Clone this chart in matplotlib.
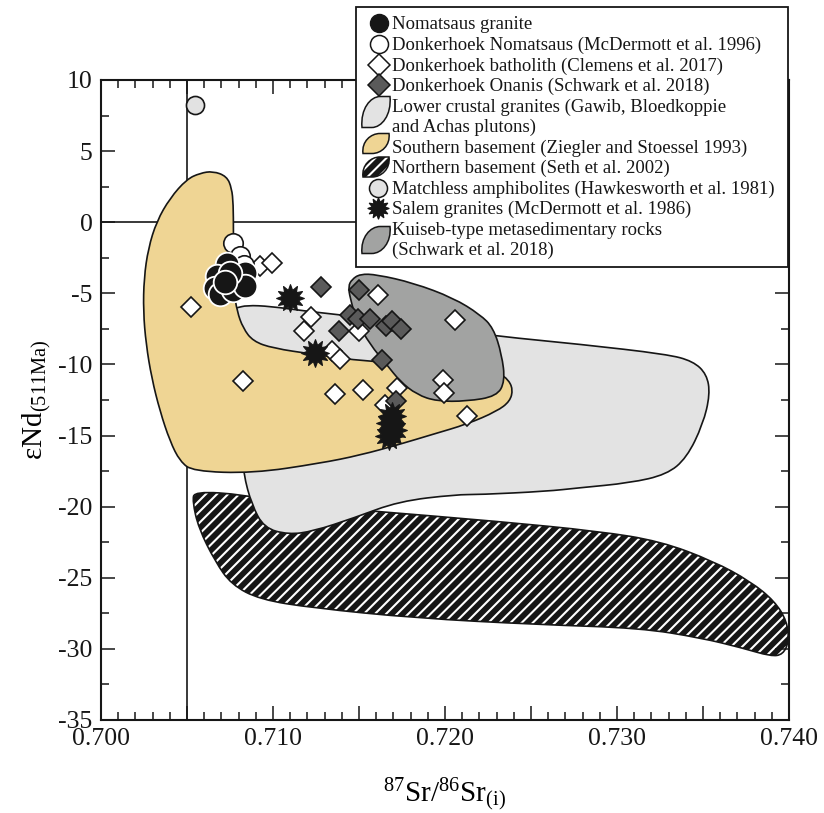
import numpy as np
import matplotlib
matplotlib.use('Agg')
import matplotlib.pyplot as plt
from matplotlib.path import Path
from matplotlib.patches import PathPatch, Rectangle
from matplotlib.ticker import MultipleLocator, FuncFormatter

plt.rcParams['font.family'] = ['Liberation Serif', 'DejaVu Serif']
plt.rcParams['mathtext.fontset'] = 'custom'
plt.rcParams['mathtext.rm'] = 'Liberation Serif'
plt.rcParams['axes.unicode_minus'] = False
plt.rcParams['hatch.linewidth'] = 1.5

# data
# Nomatsaus granite (black circles)
nom_x = [0.70731, 0.70673, 0.70663, 0.70692, 0.70766, 0.70837, 0.70837, 0.70750, 0.70720]
nom_y = [-2.97, -3.80, -4.62, -5.05, -4.78, -3.57, -4.50, -3.60, -4.20]
# Donkerhoek Nomatsaus, McDermott et al. 1996 (white circles)
dkn_x = [0.70769, 0.70810, 0.70830]
dkn_y = [-1.46, -2.35, -3.00]
# Donkerhoek batholith, Clemens et al. 2017 (white diamonds)
dkb_x = [0.70924, 0.70992, 0.70523, 0.70828, 0.71612, 0.71219, 0.71182, 0.71502, 0.71341,
         0.71390, 0.71360, 0.71525, 0.71719, 0.71651, 0.72058, 0.71990, 0.71996, 0.72126]
dkb_y = [-3.05, -2.90, -5.96, -11.18, -5.13, -6.68, -7.67, -7.67, -9.07,
         -9.59, -12.07, -11.77, -11.65, -12.82, -6.84, -11.06, -12.00, -13.64]
# Donkerhoek Onanis, Schwark et al. 2018 (dark diamonds)
dko_x = [0.71277, 0.71502, 0.71386, 0.71448, 0.71496, 0.71564, 0.71657, 0.71690, 0.71742, 0.71632, 0.71715]
dko_y = [-4.57, -4.80, -7.62, -6.54, -6.77, -6.77, -7.31, -6.96, -7.50, -9.70, -12.54]
# Salem granites (stars)
sal_x = [0.71099, 0.71244, 0.71690, 0.71680, 0.71700, 0.71675]
sal_y = [-5.32, -9.19, -13.60, -14.10, -14.60, -15.00]
# Matchless amphibolites
mat_x = [0.70547]
mat_y = [8.23]

# field outlines
south_x = [0.70651, 0.70731, 0.70760, 0.70769, 0.70770, 0.70770, 0.70773, 0.70791, 0.70826, 0.70884,
           0.71000, 0.71233, 0.71430, 0.71581, 0.71855, 0.72145, 0.72320, 0.72366, 0.72395, 0.72378,
           0.72302, 0.72128, 0.71930, 0.71738, 0.71506, 0.71273, 0.70884, 0.70535, 0.70459, 0.70401,
           0.70343, 0.70295, 0.70262, 0.70246, 0.70250, 0.70275, 0.70324, 0.70401, 0.70498, 0.70576]
south_y = [3.59, 3.23, 2.39, 1.27, -0.63, -2.74, -4.85, -6.26, -7.45, -8.37,
           -8.86, -9.28, -9.63, -9.77, -10.13, -10.48, -10.69, -11.04, -11.74, -12.59,
           -13.29, -14.20, -14.91, -15.61, -16.38, -16.95, -17.65, -17.51, -16.81, -15.40,
           -13.29, -10.97, -8.58, -6.26, -3.94, -1.83, 0.07, 1.69, 3.02, 3.45]

lower_x = [0.70738, 0.70789, 0.70847, 0.70983, 0.71196, 0.71465, 0.71855, 0.72308, 0.72785, 0.73289,
           0.73442, 0.73522, 0.73541, 0.73500, 0.73405, 0.73289, 0.73076, 0.72777, 0.72591, 0.72204,
           0.72064, 0.71732, 0.71471, 0.71233, 0.71090, 0.70948, 0.70876, 0.70829, 0.70790, 0.70740]
lower_y = [-6.12, -6.03, -5.84, -5.91, -6.26, -6.61, -7.31, -8.02, -8.58, -9.28,
           -9.77, -10.69, -12.10, -14.20, -16.57, -17.74, -18.33, -18.68, -18.92, -19.15,
           -19.15, -19.62, -20.79, -21.73, -21.96, -21.50, -19.83, -17.74, -14.00, -10.00]

kuiseb_x = [0.71458, 0.71506, 0.71603, 0.71816, 0.72048, 0.72204, 0.72281, 0.72330, 0.72349, 0.72301,
            0.72126, 0.71952, 0.71836, 0.71738, 0.71661, 0.71564, 0.71487, 0.71448, 0.71438]
kuiseb_y = [-4.03, -3.64, -3.68, -4.27, -5.32, -6.49, -7.43, -9.30, -11.18, -12.24,
            -12.59, -12.59, -12.12, -11.18, -10.01, -8.60, -6.96, -5.32, -4.50]

north_x = [0.70544, 0.70829, 0.71114, 0.71589, 0.72302, 0.72895, 0.73252, 0.73561, 0.73775, 0.73917,
           0.73988, 0.74000, 0.73965, 0.73894, 0.73727, 0.73490, 0.73134, 0.72540, 0.71827, 0.71233,
           0.70924, 0.70758, 0.70663, 0.70567, 0.70532]
north_y = [-18.92, -19.15, -19.85, -20.32, -21.03, -21.73, -22.43, -23.84, -25.25, -26.65,
           -28.06, -29.46, -30.40, -30.52, -29.93, -29.23, -28.53, -28.29, -27.83, -27.12,
           -26.53, -25.48, -23.84, -21.50, -19.62]

legend_labels = ['Nomatsaus granite',
                 'Donkerhoek Nomatsaus (McDermott et al. 1996)',
                 'Donkerhoek batholith (Clemens et al. 2017)',
                 'Donkerhoek Onanis (Schwark et al. 2018)',
                 'Lower crustal granites (Gawib, Bloedkoppie',
                 'and Achas plutons)',
                 'Southern basement (Ziegler and Stoessel 1993)',
                 'Northern basement (Seth et al. 2002)',
                 'Matchless amphibolites (Hawkesworth et al. 1981)',
                 'Salem granites (McDermott et al. 1986)',
                 'Kuiseb-type metasedimentary rocks',
                 '(Schwark et al. 2018)']

YELLOW = '#efd594'
LGRAY = '#e3e3e3'
DGRAY = '#a2a3a2'
DDIAM = '#5a5a5a'
INK = '#161616'


def smooth(xs, ys):
    # closed quadratic curve through the midpoints of the outline
    p = np.column_stack([xs, ys])
    m = (p + np.roll(p, -1, axis=0)) / 2
    verts = [m[-1]]
    codes = [Path.MOVETO]
    for i in range(len(p)):
        verts += [p[i], m[i]]
        codes += [Path.CURVE3, Path.CURVE3]
    verts.append(m[-1])
    codes.append(Path.CLOSEPOLY)
    return Path(verts, codes)


star = Path.unit_regular_star(12, 0.6)

fig = plt.figure(figsize=(8.24, 8.13), dpi=100)
ax = fig.add_axes([101 / 824, 93 / 813, 688 / 824, 640 / 813])

ax.axvline(0.705, color=INK, lw=1.2, zorder=0.5)
ax.axhline(0, color=INK, lw=1.2, zorder=0.5)

npath = smooth(north_x, north_y)
ax.add_patch(PathPatch(npath, facecolor=INK, edgecolor='white', hatch='///', lw=0, zorder=1))
ax.add_patch(PathPatch(npath, facecolor='none', edgecolor=INK, lw=1.2, zorder=1.1))
ax.add_patch(PathPatch(smooth(lower_x, lower_y), facecolor=LGRAY, edgecolor=INK, lw=1.2, zorder=1.5))
ax.add_patch(PathPatch(smooth(south_x, south_y), facecolor=YELLOW, edgecolor=INK, lw=1.2, zorder=2))
ax.add_patch(PathPatch(smooth(kuiseb_x, kuiseb_y), facecolor=DGRAY, edgecolor=INK, lw=1.2, zorder=2.5))

ax.plot(dkb_x, dkb_y, 'D', ms=10.5, mfc='white', mec=INK, mew=1.2, ls='none', zorder=3)
ax.plot(dko_x, dko_y, 'D', ms=10.5, mfc=DDIAM, mec=INK, mew=1.2, ls='none', zorder=3.1)
ax.plot(mat_x, mat_y, 'o', ms=13, mfc='#e2e2e2', mec=INK, mew=1.2, ls='none', zorder=3)
ax.plot(dkn_x, dkn_y, 'o', ms=14, mfc='white', mec=INK, mew=1.2, ls='none', zorder=3.2)
ax.plot(nom_x, nom_y, 'o', ms=17, mfc=INK, mec='white', mew=1.3, ls='none', zorder=3.3)
ax.plot(sal_x, sal_y, marker=star, ms=20, mfc=INK, mec=INK, mew=0.8, ls='none', zorder=3.4)

ax.set_xlim(0.700, 0.740)
ax.set_ylim(-35, 10)
ax.xaxis.set_major_locator(MultipleLocator(0.005))
ax.xaxis.set_minor_locator(MultipleLocator(0.001))
ax.xaxis.set_major_formatter(FuncFormatter(
    lambda v, p: '%.3f' % v if abs(round(v * 1000) % 10) < 1e-6 else ''))
ax.yaxis.set_major_locator(MultipleLocator(5))
ax.yaxis.set_minor_locator(MultipleLocator(2.5))
ax.tick_params(which='both', direction='in', top=True, right=True, colors=INK,
               labelsize=18.5, pad=6)
ax.tick_params(which='major', length=10, width=1.1)
ax.tick_params(which='minor', length=5.5, width=1.1)
for s in ax.spines.values():
    s.set_linewidth(1.5)
    s.set_color(INK)

ax.set_xlabel(r'$\mathregular{^{87}Sr/^{86}Sr_{(i)}}$', fontsize=21)
ax.xaxis.set_label_coords(0.5, -0.087)
ax.set_ylabel(r'εNd$\mathregular{_{(511Ma)}}$', fontsize=21)
ax.yaxis.set_label_coords(-0.07, 0.5)

# legend drawn in figure pixel space
lax = fig.add_axes([0, 0, 1, 1], zorder=5)
lax.set_xlim(0, 824)
lax.set_ylim(813, 0)
lax.axis('off')
lax.add_patch(Rectangle((356, 7), 432, 260, facecolor='white', edgecolor=INK, lw=1.3))

base = [29.3, 50, 70.5, 91, 111.5, 132, 152.5, 173, 193.5, 214, 234.5, 255]
for lab, b in zip(legend_labels, base):
    lax.text(392.5, b, lab, fontsize=13.5, va='baseline', ha='left', color=INK)


def leaf(cx, cy, w, h):
    u = [(-0.5, -0.5), (-0.56, 0.1), (-0.2, 0.5), (0.15, 0.5), (0.5, 0.5),
         (0.56, -0.1), (0.2, -0.5), (-0.15, -0.5), (-0.5, -0.5)]
    c = [Path.MOVETO, Path.CURVE4, Path.CURVE4, Path.CURVE4, Path.LINETO,
         Path.CURVE4, Path.CURVE4, Path.CURVE4, Path.CLOSEPOLY]
    return Path([(cx + a * w, cy - b * h) for a, b in u], c)


lax.plot(379.5, 23.3, 'o', ms=13, mfc=INK, mec=INK)
lax.plot(379.5, 44.5, 'o', ms=13, mfc='white', mec=INK, mew=1.1)
lax.plot(379.5, 65, 'D', ms=11, mfc='white', mec=INK, mew=1.1)
lax.plot(379.5, 85.5, 'D', ms=11, mfc=DDIAM, mec=INK, mew=1.1)
lax.add_patch(PathPatch(leaf(376, 112, 28, 31), facecolor=LGRAY, edgecolor=INK, lw=1.1))
lax.add_patch(PathPatch(leaf(376, 143.5, 26, 20), facecolor=YELLOW, edgecolor=INK, lw=1.1))
nl = leaf(376, 167, 26, 20)
lax.add_patch(PathPatch(nl, facecolor=INK, edgecolor='white', hatch='///', lw=0))
lax.add_patch(PathPatch(nl, facecolor='none', edgecolor=INK, lw=1.1))
lax.plot(378.5, 188.5, 'o', ms=13, mfc='#e2e2e2', mec=INK, mew=1.1)
lax.plot(378.5, 208.5, marker=star, ms=15, mfc=INK, mec=INK)
lax.add_patch(PathPatch(leaf(376, 240, 28, 27), facecolor=DGRAY, edgecolor=INK, lw=1.1))

fig.savefig('out.png', dpi=100)
